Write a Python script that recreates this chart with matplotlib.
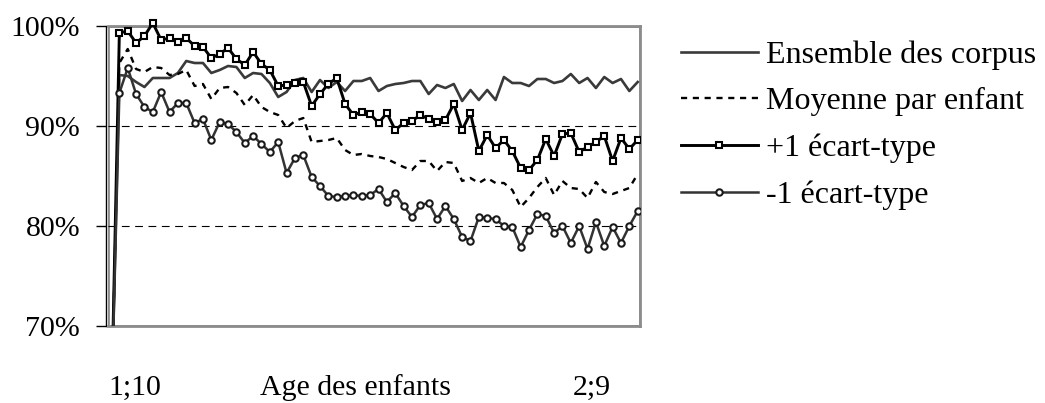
import matplotlib
matplotlib.use("Agg")
import matplotlib.pyplot as plt
from matplotlib.patches import Rectangle

plt.rcParams['font.family'] = ['Liberation Serif', 'DejaVu Serif']

# one value per age step (first step lies below the visible range)
ensemble = [60.0, 95.1, 95.0, 94.4, 93.9, 94.8, 94.8, 94.8, 95.3, 96.5,
            96.3, 96.3, 95.3, 95.6, 96.0, 95.9, 94.8, 95.3, 95.2, 94.3,
            92.9, 93.4, 94.6, 94.8, 93.4, 94.6, 93.8, 94.4, 93.5, 94.5,
            94.5, 94.8, 93.5, 94.0, 94.2, 94.3, 94.5, 94.5, 93.2, 94.1,
            93.8, 94.2, 92.5, 93.6, 92.6, 93.6, 92.6, 94.9, 94.3, 94.3,
            94.0, 94.7, 94.7, 94.3, 94.5, 95.2, 94.3, 94.8, 93.8, 94.9,
            94.3, 94.7, 93.5, 94.4]
moyenne = [60.0, 96.3, 97.7, 95.7, 95.4, 95.9, 95.8, 95.1, 95.2, 95.6,
           94.0, 94.2, 92.7, 93.8, 93.9, 93.3, 92.1, 93.1, 91.9, 91.4,
           91.1, 89.8, 90.5, 90.8, 88.4, 88.5, 88.6, 88.8, 87.6, 87.1,
           87.2, 87.0, 86.9, 86.7, 86.3, 85.9, 85.6, 86.5, 86.5, 85.5,
           86.4, 86.3, 84.5, 84.8, 84.3, 84.8, 84.3, 84.3, 83.6, 81.9,
           82.8, 83.9, 84.8, 83.1, 84.5, 83.8, 83.7, 82.8, 84.4, 83.4,
           83.2, 83.5, 83.8, 85.2]
plus_sd = [60.0, 99.3, 99.5, 98.3, 99.0, 100.3, 98.6, 98.8, 98.4, 98.8,
           98.0, 97.9, 96.8, 97.2, 97.8, 96.7, 96.1, 97.4, 96.2, 95.6,
           94.0, 94.1, 94.3, 94.4, 92.0, 93.2, 94.2, 94.8, 92.2, 91.1,
           91.4, 91.2, 90.3, 91.3, 89.6, 90.3, 90.5, 91.1, 90.7, 90.4,
           90.6, 92.2, 89.6, 91.3, 87.5, 89.1, 87.8, 88.6, 87.5, 85.8,
           85.6, 86.6, 88.7, 87.0, 89.2, 89.3, 87.4, 87.9, 88.4, 89.0,
           86.5, 88.8, 87.7, 88.6]
minus_sd = [60.0, 93.3, 95.8, 93.2, 91.9, 91.4, 93.4, 91.4, 92.3, 92.3,
            90.3, 90.7, 88.6, 90.4, 90.2, 89.4, 88.3, 89.0, 88.2, 87.4,
            88.4, 85.3, 86.8, 87.1, 84.9, 84.0, 83.0, 82.9, 83.0, 83.1,
            83.0, 83.1, 83.7, 82.4, 83.3, 82.0, 80.9, 82.1, 82.3, 80.7,
            82.0, 80.7, 78.9, 78.5, 80.9, 80.8, 80.7, 80.0, 79.9, 77.9,
            79.6, 81.2, 81.0, 79.3, 80.0, 78.3, 80.0, 77.7, 80.4, 78.0,
            79.9, 78.3, 80.0, 81.5]

labels = ['Ensemble des corpus', 'Moyenne par enfant', '+1 écart-type', '-1 écart-type']
y_ticks = [70, 80, 90, 100]
grid_levels = [80, 90]
first_age, last_age = '1;10', '2;9'
x_title = 'Age des enfants'

x = list(range(len(ensemble)))

fig = plt.figure(figsize=(10.45, 4.03), dpi=100)
ax = fig.add_axes([108 / 1045, 1 - 326 / 403, 532 / 1045, 300 / 403])

for lvl in grid_levels:
    ax.axhline(lvl, color='black', lw=0.8, ls=(0, (7, 5)), zorder=1)

l1, = ax.plot(x, ensemble, color='#3a3a3a', lw=1.9, label=labels[0], zorder=3)
l2, = ax.plot(x, moyenne, color='black', lw=1.7, ls=(0, (2.6, 2.4)), label=labels[1], zorder=3)
l3, = ax.plot(x, plus_sd, color='black', lw=2.1, marker='s', ms=4.4, mfc='white',
              mec='black', mew=1.5, label=labels[2], zorder=4)
l4, = ax.plot(x, minus_sd, color='#333333', lw=1.8, marker='o', ms=4.6, mfc='white',
              mec='#1a1a1a', mew=1.5, label=labels[3], zorder=4)

# let the lines poke slightly above the top, as in the original
clip = Rectangle((0, 0), 1, 1.04, transform=ax.transAxes, facecolor='none', edgecolor='none')
ax.add_patch(clip)
for ln in (l1, l2, l3, l4):
    ln.set_clip_path(clip)

ax.set_xlim(-3 / 8.36, len(x) - 1 + 2.3 / 8.36)
ax.set_ylim(70, 100)
ax.set_yticks(y_ticks)
ax.set_yticklabels([f'{v}%' for v in y_ticks])
ax.tick_params(axis='y', direction='out', length=7.5, width=1, pad=11, color='black',
               labelsize=21.5)
ax.set_xticks([])

for side in ('top', 'right', 'bottom'):
    ax.spines[side].set_color('#8c8c8c')
    ax.spines[side].set_linewidth(2)
ax.spines['left'].set_color('black')
ax.spines['left'].set_linewidth(1)
ax.spines['left'].set_position(('outward', 1.5))
ax.add_patch(Rectangle((0, 0), 1, 1, transform=ax.transAxes, fill=False,
                       edgecolor='#8c8c8c', lw=2, zorder=0.5))

fig.text(135 / 1045, 1 - 388 / 403, first_age, fontsize=21.5, ha='center', va='center')
fig.text(355 / 1045, 1 - 388 / 403, x_title, fontsize=21.5, ha='center', va='center')
fig.text(592 / 1045, 1 - 388 / 403, last_age, fontsize=21.5, ha='center', va='center')

fig.legend(handles=[l1, l2, l3, l4], loc='center left',
           bbox_to_anchor=(681 / 1045, 1 - 125 / 403), frameon=False,
           fontsize=23, handlelength=2.4, handletextpad=0.25, labelspacing=0.54,
           borderpad=0, borderaxespad=0, numpoints=1)

fig.savefig('out.png', dpi=100)
